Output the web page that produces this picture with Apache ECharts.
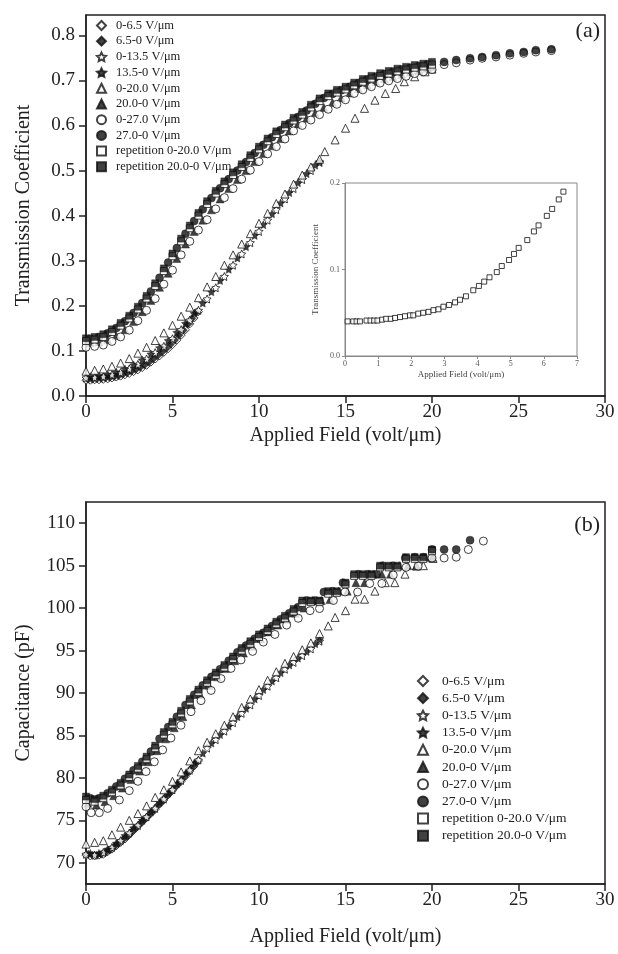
<!DOCTYPE html>
<html>
<head>
<meta charset="utf-8">
<script src="https://cdn.jsdelivr.net/npm/echarts@6/dist/echarts.min.js"></script>
<style>html,body{margin:0;padding:0;background:#fff}#c{width:618px;height:954px}</style>
</head>
<body>
<div id="c"></div>
<script>
// ---------- labels ----------
const seriesNames = ['0-6.5 V/μm','6.5-0 V/μm','0-13.5 V/μm','13.5-0 V/μm','0-20.0 V/μm','20.0-0 V/μm','0-27.0 V/μm','27.0-0 V/μm','repetition 0-20.0 V/μm','repetition 20.0-0 V/μm'];
const xTicks = [0,5,10,15,20,25,30];
const yTicksA = [0,0.1,0.2,0.3,0.4,0.5,0.6,0.7,0.8];
const yTicksB = [70,75,80,85,90,95,100,105,110];
const insetXTicks = [0,1,2,3,4,5,6,7];
const insetYTicks = [0,0.1,0.2];

// ---------- panel (a): transmission coefficient ----------
const a_dia_up = [[0,0.035],[0.25,0.035],[0.5,0.036],[0.75,0.036],[1,0.037],[1.25,0.038],[1.5,0.040],[1.75,0.042],[2,0.044],[2.25,0.047],[2.5,0.050],[2.75,0.054],[3,0.058],[3.25,0.063],[3.5,0.068],[3.75,0.075],[4,0.082],[4.25,0.089],[4.5,0.097],[4.75,0.105],[5,0.114],[5.25,0.124],[5.5,0.135],[5.75,0.147],[6,0.160],[6.25,0.173],[6.5,0.187]];
const a_dia_dn = [[0.125,0.037],[0.375,0.037],[0.625,0.038],[0.875,0.039],[1.125,0.040],[1.375,0.041],[1.625,0.043],[1.875,0.045],[2.125,0.048],[2.375,0.051],[2.625,0.055],[2.875,0.059],[3.125,0.064],[3.375,0.069],[3.625,0.075],[3.875,0.082],[4.125,0.089],[4.375,0.097],[4.625,0.105],[4.875,0.114],[5.125,0.124],[5.375,0.135],[5.625,0.146],[5.875,0.159],[6.125,0.172],[6.375,0.185]];
const a_star_up = [[0,0.040],[0.5,0.041],[1,0.043],[1.5,0.047],[2,0.052],[2.5,0.060],[3,0.070],[3.5,0.082],[4,0.096],[4.5,0.110],[5,0.127],[5.5,0.147],[6,0.168],[6.5,0.190],[7,0.215],[7.5,0.240],[8,0.265],[8.5,0.290],[9,0.315],[9.5,0.340],[10,0.365],[10.5,0.390],[11,0.413],[11.5,0.437],[12,0.460],[12.5,0.480],[13,0.500],[13.5,0.518]];
const a_star_dn = [[0.25,0.043],[0.75,0.045],[1.25,0.048],[1.75,0.053],[2.25,0.060],[2.75,0.069],[3.25,0.080],[3.75,0.093],[4.25,0.107],[4.75,0.123],[5.25,0.141],[5.75,0.161],[6.25,0.183],[6.75,0.206],[7.25,0.231],[7.75,0.256],[8.25,0.281],[8.75,0.306],[9.25,0.331],[9.75,0.356],[10.25,0.380],[10.75,0.404],[11.25,0.428],[11.75,0.451],[12.25,0.473],[12.75,0.493],[13.25,0.512],[13.5,0.520]];
const a_tri_up = [[0,0.055],[0.5,0.057],[1,0.060],[1.5,0.066],[2,0.073],[2.5,0.083],[3,0.095],[3.5,0.108],[4,0.123],[4.5,0.140],[5,0.157],[5.5,0.177],[6,0.197],[6.5,0.218],[7,0.242],[7.5,0.265],[8,0.290],[8.5,0.313],[9,0.337],[9.5,0.360],[10,0.383],[10.5,0.405],[11,0.427],[11.5,0.448],[12,0.470],[12.5,0.490],[13,0.508],[13.5,0.525],[13.8,0.542],[14.4,0.568],[15,0.594],[15.55,0.616],[16.1,0.638],[16.7,0.656],[17.3,0.671],[17.9,0.682],[18.4,0.697],[19,0.708],[19.6,0.719],[20,0.725]];
const a_tri_dn = [[0.25,0.118],[0.75,0.120],[1.25,0.125],[1.75,0.134],[2.25,0.147],[2.75,0.165],[3.25,0.187],[3.75,0.212],[4.25,0.241],[4.75,0.272],[5.25,0.305],[5.75,0.337],[6.25,0.365],[6.75,0.390],[7.25,0.413],[7.75,0.437],[8.25,0.460],[8.75,0.480],[9.25,0.500],[9.75,0.520],[10.25,0.538],[10.75,0.555],[11.25,0.571],[11.75,0.588],[12.25,0.603],[12.75,0.616],[13.25,0.628],[13.75,0.640],[14.25,0.651],[14.75,0.661],[15.25,0.672],[15.75,0.682],[16.25,0.690],[16.75,0.697],[17.25,0.703],[17.75,0.708],[18.25,0.713],[18.75,0.718],[19.25,0.722],[19.75,0.727],[20,0.730]];
const a_cir_up = [[0,0.108],[0.5,0.110],[1,0.113],[1.5,0.121],[2,0.131],[2.5,0.146],[3,0.167],[3.5,0.190],[4,0.216],[4.5,0.248],[5,0.279],[5.5,0.313],[6,0.343],[6.5,0.368],[7,0.391],[7.5,0.415],[8,0.440],[8.5,0.460],[9,0.481],[9.5,0.501],[10,0.520],[10.5,0.537],[11,0.553],[11.5,0.570],[12,0.588],[12.5,0.600],[13,0.612],[13.5,0.624],[14,0.636],[14.5,0.647],[15,0.657],[15.5,0.671],[16,0.679],[16.5,0.686],[17,0.694],[17.5,0.699],[18,0.704],[18.5,0.709],[19,0.715],[19.5,0.719],[20,0.724],[20.7,0.735],[21.4,0.739],[22.2,0.745],[22.9,0.749],[23.7,0.752],[24.5,0.756],[25.3,0.760],[26.0,0.763],[26.9,0.766]];
const a_cir_dn = [[0.25,0.127],[0.75,0.131],[1.25,0.139],[1.75,0.151],[2.25,0.166],[2.75,0.184],[3.25,0.206],[3.75,0.232],[4.25,0.262],[4.75,0.296],[5.25,0.328],[5.75,0.360],[6.25,0.388],[6.75,0.414],[7.25,0.439],[7.75,0.461],[8.25,0.481],[8.75,0.500],[9.25,0.519],[9.75,0.539],[10.25,0.557],[10.75,0.574],[11.25,0.590],[11.75,0.605],[12.25,0.619],[12.75,0.633],[13.25,0.648],[13.75,0.661],[14.25,0.670],[14.75,0.678],[15.25,0.686],[15.75,0.694],[16.25,0.702],[16.75,0.708],[17.25,0.714],[17.75,0.719],[18.25,0.724],[18.75,0.728],[19.25,0.732],[19.75,0.736],[20.7,0.741],[21.4,0.745],[22.2,0.749],[22.9,0.752],[23.7,0.756],[24.5,0.760],[25.3,0.763],[26.0,0.767],[26.9,0.769]];
const a_sq_up = [[0,0.122],[0.5,0.125],[1,0.131],[1.5,0.142],[2,0.156],[2.5,0.172],[3,0.192],[3.5,0.216],[4,0.244],[4.5,0.277],[5,0.310],[5.5,0.343],[6,0.372],[6.5,0.400],[7,0.426],[7.5,0.449],[8,0.470],[8.5,0.490],[9,0.508],[9.5,0.528],[10,0.547],[10.5,0.565],[11,0.581],[11.5,0.596],[12,0.611],[12.5,0.624],[13,0.640],[13.5,0.654],[14,0.665],[14.5,0.673],[15,0.680],[15.5,0.689],[16,0.697],[16.5,0.704],[17,0.710],[17.5,0.715],[18,0.720],[18.5,0.724],[19,0.728],[19.5,0.731],[20,0.735]];
const a_sq_dn = [[0,0.128],[0.5,0.131],[1,0.137],[1.5,0.148],[2,0.162],[2.5,0.178],[3,0.198],[3.5,0.222],[4,0.250],[4.5,0.283],[5,0.316],[5.5,0.349],[6,0.378],[6.5,0.406],[7,0.432],[7.5,0.455],[8,0.476],[8.5,0.496],[9,0.514],[9.5,0.534],[10,0.553],[10.5,0.571],[11,0.587],[11.5,0.602],[12,0.617],[12.5,0.630],[13,0.646],[13.5,0.660],[14,0.671],[14.5,0.679],[15,0.686],[15.5,0.695],[16,0.703],[16.5,0.710],[17,0.716],[17.5,0.721],[18,0.726],[18.5,0.730],[19,0.734],[19.5,0.737],[20,0.741]];

// ---------- inset of (a) ----------
const inset_sq = [[0.08,0.040],[0.25,0.040],[0.35,0.040],[0.45,0.040],[0.65,0.041],[0.77,0.041],[0.88,0.041],[0.98,0.041],[1.12,0.042],[1.24,0.043],[1.38,0.043],[1.51,0.044],[1.66,0.045],[1.81,0.046],[1.96,0.047],[2.06,0.047],[2.21,0.049],[2.36,0.050],[2.52,0.051],[2.67,0.053],[2.82,0.054],[2.97,0.057],[3.14,0.059],[3.32,0.062],[3.47,0.065],[3.65,0.069],[3.87,0.076],[4.04,0.081],[4.20,0.086],[4.36,0.091],[4.58,0.097],[4.73,0.104],[4.95,0.111],[5.10,0.118],[5.24,0.125],[5.50,0.134],[5.70,0.144],[5.84,0.151],[6.09,0.162],[6.25,0.170],[6.45,0.181],[6.59,0.190]];

// ---------- panel (b): capacitance ----------
const b_dia_up = [[0,70.9],[0.25,70.8],[0.5,70.8],[0.75,70.9],[1,71.0],[1.25,71.3],[1.5,71.6],[1.75,72.0],[2,72.4],[2.25,72.8],[2.5,73.3],[2.75,73.8],[3,74.3],[3.25,74.8],[3.5,75.3],[3.75,75.8],[4,76.3],[4.25,76.9],[4.5,77.4],[4.75,78.0],[5,78.5],[5.25,79.1],[5.5,79.6],[5.75,80.2],[6,80.8],[6.25,81.4],[6.5,82.0]];
const b_dia_dn = [[0.125,71.0],[0.375,70.9],[0.625,70.9],[0.875,71.0],[1.125,71.2],[1.375,71.5],[1.625,71.9],[1.875,72.3],[2.125,72.7],[2.375,73.1],[2.625,73.6],[2.875,74.1],[3.125,74.6],[3.375,75.1],[3.625,75.6],[3.875,76.1],[4.125,76.7],[4.375,77.2],[4.625,77.8],[4.875,78.3],[5.125,78.9],[5.375,79.4],[5.625,80.0],[5.875,80.6],[6.125,81.2],[6.375,81.8]];
const b_star_up = [[0,71.0],[0.5,70.9],[1,71.2],[1.5,71.8],[2,72.6],[2.5,73.5],[3,74.4],[3.5,75.4],[4,76.4],[4.5,77.5],[5,78.6],[5.5,79.7],[6,80.9],[6.5,82.1],[7,83.5],[7.5,84.5],[8,85.5],[8.5,86.5],[9,87.6],[9.5,88.6],[10,89.7],[10.5,90.8],[11,91.8],[11.5,92.8],[12,93.6],[12.5,94.4],[13,95.2],[13.5,96.1]];
const b_star_dn = [[0.25,71.1],[0.75,71.1],[1.25,71.6],[1.75,72.3],[2.25,73.2],[2.75,74.1],[3.25,75.0],[3.75,76.0],[4.25,77.1],[4.75,78.2],[5.25,79.3],[5.75,80.5],[6.25,81.7],[6.75,82.9],[7.25,84.1],[7.75,85.1],[8.25,86.1],[8.75,87.2],[9.25,88.2],[9.75,89.3],[10.25,90.4],[10.75,91.4],[11.25,92.4],[11.75,93.3],[12.25,94.1],[12.75,94.9],[13.25,95.8],[13.5,96.3]];
const b_tri_up = [[0,72.2],[0.5,72.4],[1,72.6],[1.5,73.3],[2,74.2],[2.5,75.0],[3,75.8],[3.5,76.7],[4,77.7],[4.5,78.6],[5,79.6],[5.5,80.7],[6,82.0],[6.5,83.2],[7,84.2],[7.5,85.2],[8,86.2],[8.5,87.2],[9,88.3],[9.5,89.3],[10,90.4],[10.5,91.5],[11,92.5],[11.5,93.5],[12,94.3],[12.5,95.1],[13,95.9],[13.5,97.0],[14.0,97.9],[14.4,98.9],[15.0,99.7],[15.55,101.05],[16.1,101.05],[16.7,102.0],[17.3,103.0],[17.85,103.0],[18.44,104.0],[19.1,104.95],[19.5,105.0],[20.06,105.85]];
const b_tri_dn = [[0.1,77.0],[0.6,76.8],[1.1,77.2],[1.6,77.9],[2.1,78.8],[2.6,79.8],[3.1,80.8],[3.6,81.9],[4.1,83.2],[4.6,84.6],[5.1,85.9],[5.6,87.2],[6.1,88.6],[6.6,89.8],[7.1,90.9],[7.6,91.9],[8.1,92.9],[8.6,93.8],[9.1,94.7],[9.6,95.5],[10.1,96.4],[10.6,97.2],[11.1,98.0],[11.6,98.7],[12.1,99.4],[12.6,100.0],[13.1,100.9],[13.6,100.9],[14.1,101.0],[14.6,102.0],[15.1,102.0],[15.6,103.0],[16.1,103.0],[16.6,104.0],[17.1,104.0],[17.6,104.0],[18.1,105.0],[18.6,105.0],[19.1,105.0],[19.6,106.0],[20.0,106.0]];
const b_cir_up = [[0,76.6],[0.3,75.9],[0.77,75.9],[1.25,76.4],[1.93,77.4],[2.5,78.5],[3.0,79.6],[3.47,80.75],[3.95,81.9],[4.43,83.3],[4.91,84.7],[5.49,86.2],[6.07,87.8],[6.65,89.1],[7.23,90.3],[7.8,91.7],[8.38,92.9],[8.96,93.9],[9.63,94.9],[10.25,96.0],[10.92,96.9],[11.6,98.0],[12.27,98.8],[12.95,99.7],[13.5,99.95],[14.3,100.9],[14.97,101.9],[15.7,101.9],[16.4,102.9],[17.1,102.9],[17.76,103.9],[18.5,104.8],[19.2,104.95],[20.0,105.9],[20.7,105.9],[21.4,106.0],[22.1,106.9],[22.97,107.9]];
const b_cir_dn = [[0.25,77.6],[0.75,77.6],[1.25,78.2],[1.75,79.0],[2.25,79.9],[2.75,80.9],[3.25,81.9],[3.75,83.1],[4.25,84.6],[4.75,86.0],[5.25,87.2],[5.75,88.6],[6.25,89.8],[6.75,90.9],[7.25,91.9],[7.75,92.8],[8.25,93.8],[8.75,94.8],[9.25,95.6],[9.75,96.4],[10.25,97.1],[10.75,97.9],[11.25,98.7],[11.75,99.4],[12.25,100.1],[12.75,100.9],[13.25,100.9],[13.75,101.9],[14.25,102.0],[14.85,103.0],[15.75,104.0],[16.3,104.0],[16.8,104.0],[17.15,105.0],[17.75,105.0],[18.45,105.9],[19.0,106.0],[19.5,106.0],[20.0,106.9],[20.7,106.9],[21.4,106.9],[22.2,108.0]];
const b_sq_up = [[0,77.4],[0.5,77.2],[1,77.6],[1.5,78.3],[2,79.1],[2.5,80.1],[3,81.1],[3.5,82.2],[4,83.5],[4.5,85.1],[5,86.3],[5.5,87.6],[6,89.0],[6.5,90.1],[7,91.2],[7.5,92.1],[8,93.0],[8.5,94.0],[9,95.0],[9.5,95.8],[10,96.6],[10.5,97.3],[11,98.1],[11.5,98.8],[12,99.6],[12.5,100.6],[13,100.7],[13.5,100.7],[14,101.7],[14.5,101.8],[15,102.8],[15.5,103.8],[16,103.8],[16.5,103.8],[17,104.8],[17.5,104.8],[18,104.8],[18.5,105.8],[19,105.8],[19.5,105.8],[20,106.7]];
const b_sq_dn = [[0,77.8],[0.5,77.5],[1,77.9],[1.5,78.6],[2,79.4],[2.5,80.4],[3,81.4],[3.5,82.5],[4,83.8],[4.5,85.4],[5,86.6],[5.5,87.9],[6,89.3],[6.5,90.4],[7,91.5],[7.5,92.4],[8,93.3],[8.5,94.3],[9,95.3],[9.5,96.1],[10,96.9],[10.5,97.6],[11,98.4],[11.5,99.1],[12,99.9],[12.5,100.9],[13,100.9],[13.5,100.9],[14,102.0],[14.5,102.0],[15,103.0],[15.5,104.0],[16,104.0],[16.5,104.0],[17,105.0],[17.5,105.0],[18,105.0],[18.5,106.0],[19,106.0],[19.5,106.0],[20,106.9]];

const dataA = [a_dia_up,a_dia_dn,a_star_up,a_star_dn,a_tri_up,a_tri_dn,a_cir_up,a_cir_dn,a_sq_up,a_sq_dn];
const dataB = [b_dia_up,b_dia_dn,b_star_up,b_star_dn,b_tri_up,b_tri_dn,b_cir_up,b_cir_dn,b_sq_up,b_sq_dn];

// ---------- styling ----------
const STAR = 'path://M0,-10 L2.94,-4.05 L9.51,-3.09 L4.76,1.55 L5.88,8.09 L0,5 L-5.88,8.09 L-4.76,1.55 L-9.51,-3.09 L-2.94,-4.05 Z';
const marks = [
  {symbol:'diamond', size:8, fill:false},
  {symbol:'diamond', size:8, fill:true},
  {symbol:STAR, size:8, fill:false},
  {symbol:STAR, size:8, fill:true},
  {symbol:'triangle', size:8, fill:false},
  {symbol:'triangle', size:8, fill:true},
  {symbol:'circle', size:8, fill:false},
  {symbol:'circle', size:8, fill:true},
  {symbol:'rect', size:7, fill:false},
  {symbol:'rect', size:7, fill:true}
];
const INK = '#111';
const SERIF = '"Liberation Serif", "DejaVu Serif", serif';

function mkSeries(data, gi) {
  return data.map((d, i) => ({
    type:'scatter', name: seriesNames[i], xAxisIndex: gi, yAxisIndex: gi,
    data: d, symbol: marks[i].symbol, symbolSize: marks[i].size,
    itemStyle: marks[i].fill ? {color: INK, borderColor: INK, borderWidth: 0.5}
                            : {color: '#fff', borderColor: INK, borderWidth: 1},
    emphasis: {disabled: true}, silent: true, animation: false
  }));
}

const axLine = {show:true, onZero:false, lineStyle:{color:'#222', width:1.5}};
const axTick = (vals) => ({show:true, inside:false, length:7, lineStyle:{color:'#222', width:1.5}, customValues: vals});
const mainLabel = (vals, fmt, margin) => ({fontFamily: SERIF, fontSize: 19, color:'#222', margin: margin, customValues: vals, formatter: fmt});

const option = {
  backgroundColor:'#fff',
  animation:false,
  textStyle:{fontFamily: SERIF},
  grid: [
    {left:86, top:15, width:519, height:381, show:true, borderColor:'#222', borderWidth:1.5, containLabel:false},
    {left:86, top:502, width:519, height:382, show:true, borderColor:'#222', borderWidth:1.5, containLabel:false},
    {left:345, top:183, width:232, height:173, show:true, borderColor:'#888', borderWidth:1, backgroundColor:'#fff', z:5}
  ],
  xAxis: [
    {gridIndex:0, type:'value', min:0, max:30, axisLine:axLine, axisTick:axTick(xTicks), splitLine:{show:false},
     axisLabel: mainLabel(xTicks, v=>String(v), 7),
     name:'Applied Field (volt/μm)', nameLocation:'middle', nameGap:30, nameTextStyle:{fontFamily:SERIF, fontSize:20, color:'#222'}},
    {gridIndex:1, type:'value', min:0, max:30, axisLine:axLine, axisTick:axTick(xTicks), splitLine:{show:false},
     axisLabel: mainLabel(xTicks, v=>String(v), 7),
     name:'Applied Field (volt/μm)', nameLocation:'middle', nameGap:43, nameTextStyle:{fontFamily:SERIF, fontSize:20, color:'#222'}},
    {gridIndex:2, type:'value', min:0, max:7, axisLine:{show:true, onZero:false, lineStyle:{color:'#888', width:1}},
     axisTick:{show:true, length:3, lineStyle:{color:'#888'}, customValues: insetXTicks}, splitLine:{show:false},
     axisLabel:{fontFamily:SERIF, fontSize:8, color:'#555', margin:4, customValues: insetXTicks},
     name:'Applied Field (volt/μm)', nameLocation:'middle', nameGap:14, nameTextStyle:{fontFamily:SERIF, fontSize:9, color:'#444'}, z:6}
  ],
  yAxis: [
    {gridIndex:0, type:'value', min:0, max:0.845, axisLine:axLine, axisTick:axTick(yTicksA), splitLine:{show:false},
     axisLabel: mainLabel(yTicksA, v=>v.toFixed(1), 11),
     name:'Transmission Coefficient', nameLocation:'middle', nameGap:52, nameRotate:90, nameTextStyle:{fontFamily:SERIF, fontSize:20, color:'#222'}},
    {gridIndex:1, type:'value', min:67.5, max:112.5, axisLine:axLine, axisTick:axTick(yTicksB), splitLine:{show:false},
     axisLabel: mainLabel(yTicksB, v=>String(Math.round(v)), 11),
     name:'Capacitance (pF)', nameLocation:'middle', nameGap:52, nameRotate:90, nameTextStyle:{fontFamily:SERIF, fontSize:20, color:'#222'}},
    {gridIndex:2, type:'value', min:0, max:0.2, axisLine:{show:true, onZero:false, lineStyle:{color:'#888', width:1}},
     axisTick:{show:true, length:3, lineStyle:{color:'#888'}, customValues: insetYTicks}, splitLine:{show:false},
     axisLabel:{fontFamily:SERIF, fontSize:8, color:'#555', margin:5, customValues: insetYTicks, formatter: v=>v.toFixed(1)},
     name:'Transmission Coefficient', nameLocation:'middle', nameGap:25, nameRotate:90, nameTextStyle:{fontFamily:SERIF, fontSize:9, color:'#444'}, z:6}
  ],
  legend: [
    {orient:'vertical', left:91, top:14, itemWidth:9, itemHeight:9, itemGap:2.7, data: seriesNames,
     selectedMode:false, textStyle:{fontFamily:SERIF, fontSize:12.5, color:'#222', lineHeight:13, padding:[0,0,0,5]}},
    {orient:'vertical', left:412, top:669, itemWidth:10, itemHeight:10, itemGap:3.2, data: seriesNames,
     selectedMode:false, textStyle:{fontFamily:SERIF, fontSize:13.5, color:'#222', lineHeight:13.5, padding:[0,0,0,9]}}
  ],
  graphic: [
    {type:'text', right:18, top:20, style:{text:'(a)', font:'22px ' + SERIF, fill:'#222'}},
    {type:'text', right:18, top:514, style:{text:'(b)', font:'22px ' + SERIF, fill:'#222'}}
  ],
  series: [
    ...mkSeries(dataA, 0),
    ...mkSeries(dataB, 1),
    {type:'scatter', name:'inset', xAxisIndex:2, yAxisIndex:2, data: inset_sq, symbol:'rect', symbolSize:5,
     itemStyle:{color:'#fff', borderColor:INK, borderWidth:1}, z:7, silent:true}
  ]
};

const chart = echarts.init(document.getElementById('c'), null, {renderer:'canvas'});
chart.setOption(option);
</script>
</body>
</html>
